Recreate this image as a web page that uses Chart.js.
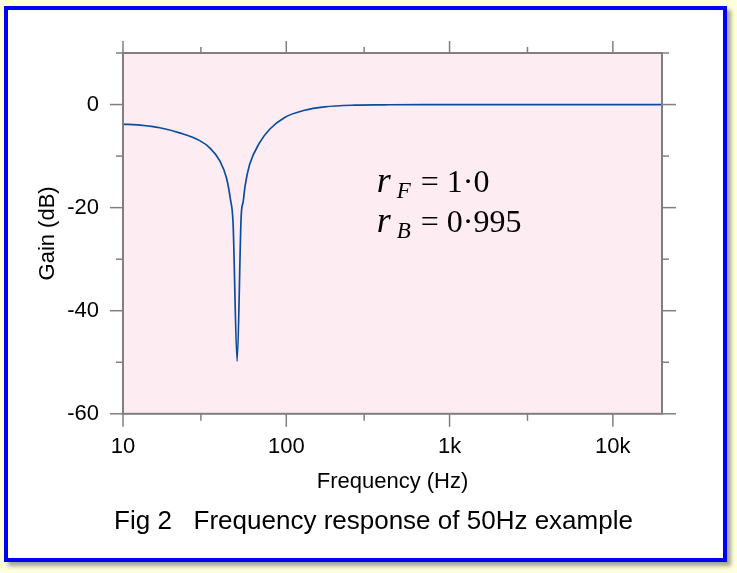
<!DOCTYPE html>
<html>
<head>
<meta charset="utf-8">
<script src="https://cdn.jsdelivr.net/npm/chart.js@4.4.0/dist/chart.umd.min.js"></script>
<style>
  html, body { margin: 0; padding: 0; background: #ffffdc; }
  body { width: 737px; height: 573px; position: relative; overflow: hidden; }
  #frame {
    position: absolute; left: 4px; top: 6px; width: 723px; height: 556px;
    box-sizing: border-box; border: 4px solid #0000f5; background: #fff;
    box-shadow: 4px 4px 4px rgba(90, 90, 90, .55);
  }
  #chart { position: absolute; left: 0; top: 0; }
</style>
</head>
<body>
<div id="frame"></div>
<canvas id="chart" width="737" height="573"></canvas>
<script>
// values: frequency (Hz) / gain (dB)
const FREQ = [10, 12.7, 16.8, 22.2, 29.5, 34, 39.1, 43, 45.5, 47.2, 50, 52.95, 54.5, 56, 59.7, 68.7, 79.1, 97.8, 129.6, 172, 262, 400, 700, 1500, 5000, 20000];
const GAIN = [-3.8, -4.0, -4.5, -5.5, -7.0, -8.4, -10.9, -14.2, -18.4, -22.9, -49.8, -21.6, -18.8, -15.7, -11.6, -7.4, -4.8, -2.5, -1.1, -0.45, -0.12, -0.05, 0, 0, 0, 0];

const X_TICKS = [10, 100, 1000, 10000];
const X_LABELS = ["10", "100", "1k", "10k"];
const X_MINOR = [30, 300, 3000];
const Y_TICKS = [0, -20, -40, -60];
const Y_MINOR = [10, -10, -30, -50];

const LINE_1 = ["r", "F", " = 1·0"];
const LINE_2 = ["r", "B", " = 0·995"];

const PLOT_BG = "#fdecf1";
const AXIS_GREY = "#7f7f7f";
const SANS = "'Liberation Sans', Arial, sans-serif";
const SERIF = "'Liberation Serif', 'Times New Roman', serif";

/* ===========================
   PLOT FRAME + TICK MARKS
=========================== */
const axisDecor = {
    id: "axisDecor",
    beforeDraw(chart) {
        const { ctx, chartArea: a } = chart;
        ctx.save();
        ctx.fillStyle = PLOT_BG;
        ctx.fillRect(a.left, a.top, a.width, a.height);
        ctx.restore();
    },
    afterDatasetsDraw(chart) {
        const { ctx, chartArea: a, scales: { x, y } } = chart;
        ctx.save();
        ctx.strokeStyle = AXIS_GREY;
        ctx.lineWidth = 1.5;
        const seg = (x1, y1, x2, y2) => {
            ctx.beginPath(); ctx.moveTo(x1, y1); ctx.lineTo(x2, y2); ctx.stroke();
        };
        X_TICKS.forEach(v => {
            const px = x.getPixelForValue(v);
            seg(px, a.top, px, a.top - 12);
            seg(px, a.bottom, px, a.bottom + 13);
        });
        X_MINOR.forEach(v => {
            const px = x.getPixelForValue(v);
            seg(px, a.top, px, a.top - 6);
            seg(px, a.bottom, px, a.bottom + 7);
        });
        Y_TICKS.forEach(v => {
            const py = y.getPixelForValue(v);
            seg(a.left, py, a.left - 13, py);
            seg(a.right, py, a.right + 14, py);
        });
        Y_MINOR.forEach(v => {
            const py = y.getPixelForValue(v);
            seg(a.left, py, a.left - 7, py);
            seg(a.right, py, a.right + 7, py);
        });
        ctx.lineWidth = 2;
        ctx.strokeRect(a.left, a.top, a.width, a.height);
        ctx.restore();
    },
    afterDraw(chart) {
        const { ctx, scales: { x, y } } = chart;
        const px = x.getPixelForValue(358);
        drawRich(ctx, LINE_1, px, y.getPixelForValue(-17.0));
        drawRich(ctx, LINE_2, px, y.getPixelForValue(-24.7));
    }
};

function drawRich(ctx, parts, px, py) {
    const styles = [
        { font: `italic 36px ${SERIF}`, dy: 0, gap: 6 },
        { font: `italic 23px ${SERIF}`, dy: 6, gap: 2 },
        { font: `32px ${SERIF}`, dy: 0, gap: 0 }
    ];
    ctx.save();
    ctx.fillStyle = "#000";
    ctx.textBaseline = "alphabetic";
    let cx = px;
    parts.forEach((t, i) => {
        ctx.font = styles[i].font;
        ctx.fillText(t, cx, py + styles[i].dy);
        cx += ctx.measureText(t).width + styles[i].gap;
    });
    ctx.restore();
}

/* ===========================
   CHART
=========================== */
new Chart(document.getElementById("chart"), {
    type: "line",
    data: {
        labels: FREQ,
        datasets: [{
            data: FREQ.map((f, i) => ({ x: f, y: GAIN[i] })),
            borderColor: "#0b4c9f",
            borderWidth: 1.7,
            pointRadius: 0,
            cubicInterpolationMode: "monotone",
            fill: false
        }]
    },
    options: {
        responsive: false,
        animation: false,
        layout: { padding: { left: 10, top: 53, right: 0, bottom: 0 } },
        plugins: {
            legend: { display: false },
            tooltip: { enabled: false },
            title: {
                display: true,
                position: "bottom",
                text: "Fig 2   Frequency response of 50Hz example",
                color: "#000",
                font: { family: SANS, size: 26, weight: "normal" },
                padding: { top: 0, bottom: 36 }
            }
        },
        scales: {
            x: {
                type: "logarithmic",
                min: 10,
                max: 20000,
                grid: { display: false, drawTicks: false },
                border: { display: false },
                afterBuildTicks: s => { s.ticks = X_TICKS.map(v => ({ value: v })); },
                afterFit: s => { s.height = 92; },
                ticks: {
                    autoSkip: false,
                    maxRotation: 0,
                    padding: 20,
                    color: "#000",
                    font: { family: SANS, size: 22 },
                    callback: (v, i) => X_LABELS[i]
                },
                title: {
                    display: true,
                    text: "Frequency (Hz)",
                    color: "#000",
                    font: { family: SANS, size: 22 },
                    padding: { top: 0, bottom: 11 }
                }
            },
            y: {
                min: -60,
                max: 10,
                grid: { display: false, drawTicks: false },
                border: { display: false },
                afterBuildTicks: s => { s.ticks = Y_TICKS.map(v => ({ value: v })); },
                afterFit: s => { s.width = 113; },
                ticks: {
                    padding: 24,
                    color: "#000",
                    font: { family: SANS, size: 22 },
                    callback: v => String(v)
                },
                title: {
                    display: true,
                    text: "Gain (dB)",
                    color: "#000",
                    font: { family: SANS, size: 22 },
                    padding: { top: 25, bottom: 0 }
                }
            },
            y2: {
                position: "right",
                min: -60,
                max: 10,
                grid: { display: false, drawTicks: false },
                border: { display: false },
                ticks: { display: false },
                afterFit: s => { s.width = 75; }
            }
        }
    },
    plugins: [axisDecor]
});
</script>
</body>
</html>
